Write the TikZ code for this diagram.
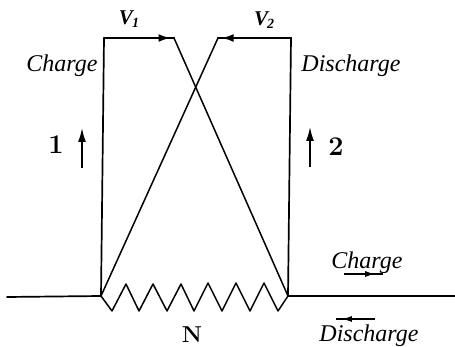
\documentclass[tikz,border=0pt]{standalone}
\usepackage{fontspec}
\setmainfont{Latin Modern Roman}
\newfontfamily\handfont[ItalicFont={Liberation Serif Italic},BoldItalicFont={Liberation Serif Bold Italic}]{Liberation Serif}
\usetikzlibrary{arrows.meta,decorations.markings}
\tikzset{
  wire/.style={draw=black,line width=1.7pt,line join=round,line cap=round},
  thin wire/.style={draw=black,line width=1.5pt,line join=round,line cap=round},
  top wire/.style={draw=black,line width=2.1pt,line cap=round},
  itlabel/.style={font=\handfont\fontsize{24}{24}\selectfont\itshape,inner sep=0pt},
  vlabel/.style={font=\handfont\fontsize{21}{21}\selectfont\itshape\bfseries,inner sep=0pt},
  numlabel/.style={font=\fontsize{27}{27}\selectfont\bfseries,inner sep=0pt},
  midhead/.style={postaction={decorate},decoration={markings,mark=at position #1 with {\arrow{Latex[length=12pt,width=8pt]}}}},
  smallhead/.style={postaction={decorate},decoration={markings,mark=at position #1 with {\arrow{Latex[length=10pt,width=6pt]}}}}
}
\begin{document}
\begin{tikzpicture}[x=1pt,y=-1pt]
\useasboundingbox (0,0) rectangle (455,347);
\coordinate (tl) at (104,38);
\coordinate (tm1) at (174,38);
\coordinate (tm2) at (218,38);
\coordinate (tr) at (291,38);
\coordinate (bl) at (101,296);
\coordinate (br) at (288,296);
\coordinate (wl) at (7,297);
\coordinate (wr) at (455,296);
% frame
\path[wire] (bl) -- (tl);
\path[top wire,midhead=0.95] (tl) -- (tm1);
\path[thin wire] (tm1) -- (br);
\path[wire] (br) -- (tr);
\path[top wire,midhead=0.95] (tr) -- (tm2);
\path[thin wire] (tm2) -- (bl);
% outer wires
\path[wire] (wl) -- (bl);
\path[wire] (br) -- (wr);
% resistor
\path[thin wire] (bl) -- (112,311) -- (126,284) -- (139,311) -- (153,284) -- (167,311) -- (181,284) -- (194,311) -- (208,283) -- (222,311) -- (236,283) -- (250,311) -- (264,283) -- (278,311) -- (br);
% current arrows
\coordinate (a1s) at (82,168); \coordinate (a1e) at (82,128);
\coordinate (a2s) at (310,167); \coordinate (a2e) at (310,127);
\draw[line width=1.6pt,-{Latex[length=14pt,width=8pt]}] (a1s) -- (a1e);
\draw[line width=1.6pt,-{Latex[length=14pt,width=8pt]}] (a2s) -- (a2e);
\coordinate (c1) at (344,274); \coordinate (c2) at (383,274);
\coordinate (d1) at (375,319); \coordinate (d2) at (336,319);
\draw[line width=1.4pt,smallhead=0.8] (c1) -- (c2);
\draw[line width=1.4pt,smallhead=0.85] (d1) -- (d2);
% labels
\node[itlabel] (lc) at (62,66) {Charge};
\node[itlabel] (ld) at (351,66) {Discharge};
\node[vlabel] (v1) at (129,19) {V\kern-1pt\raisebox{-3pt}{\fontsize{14}{14}\selectfont 1}};
\node[vlabel] (v2) at (264,20) {V\kern-1pt\raisebox{-3pt}{\fontsize{14}{14}\selectfont 2}};
\node[numlabel] (n1) at (56,145) {1};
\node[numlabel] (n2) at (336,147) {2};
\node[numlabel,font=\fontsize{23}{23}\selectfont\bfseries] (nn) at (192,335) {N};
\node[itlabel] (lc2) at (367,263) {Charge};
\node[itlabel] (ld2) at (369,336) {Discharge};
\end{tikzpicture}
\end{document}
